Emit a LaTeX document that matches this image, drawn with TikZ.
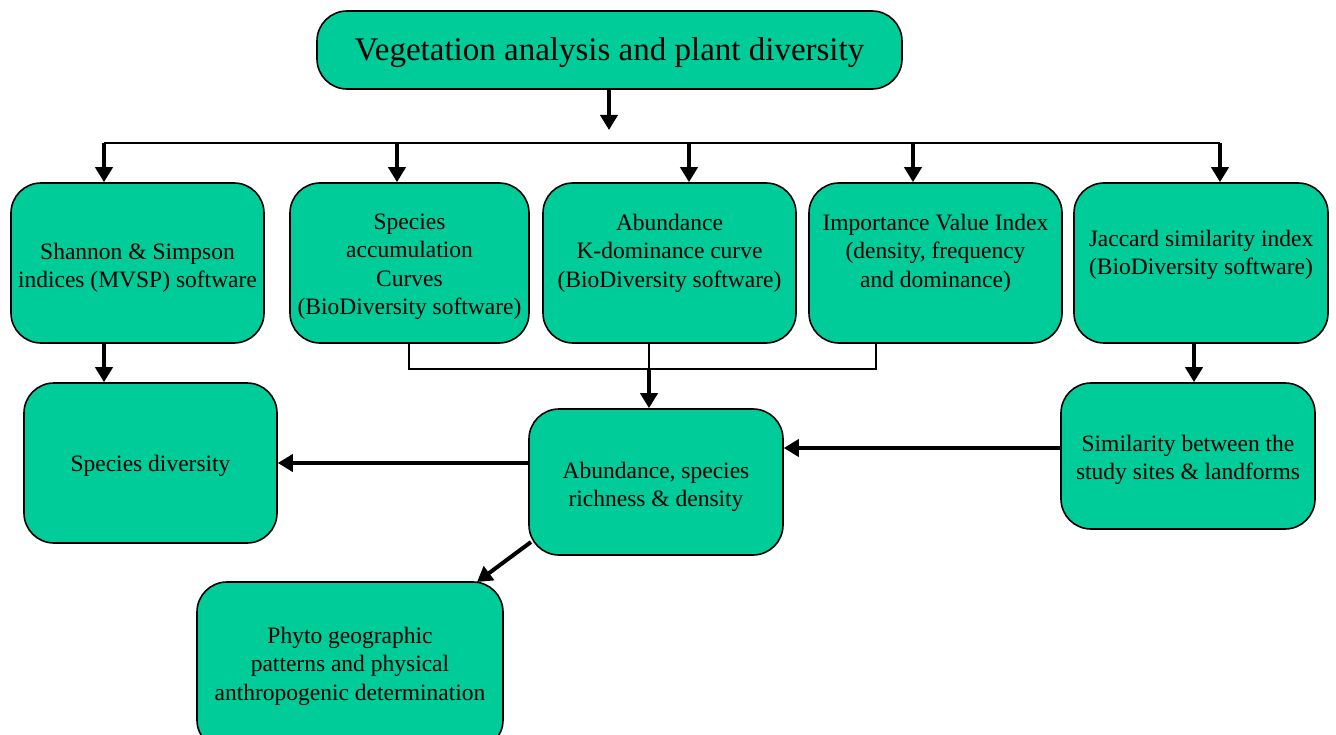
\documentclass[tikz,border=0pt]{standalone}
\usepackage{fontspec}
\setmainfont{Liberation Serif}
\usetikzlibrary{arrows.meta}
\definecolor{boxgreen}{HTML}{00CC99}

\tikzset{
  box/.style={draw, fill=boxgreen, line width=1.6pt, rounded corners=30pt, inner sep=0pt},
  txt/.style={align=center, font=\fontsize{23.5}{28.5}\selectfont, inner sep=0pt},
  joinline/.style={line width=1.8pt},
  arr/.style={line width=4pt, -{Triangle[length=15pt,width=17pt]}},
}

\begin{document}
\begin{tikzpicture}[x=1pt, y=-1pt]
  \clip (0,0) rectangle (1336,735);

  % top box
  \node[box, minimum width=585, minimum height=78] (title) at (609.5,50) {};
  \node[txt, font=\fontsize{33}{38}\selectfont] (title-t) at (609.5,53) {Vegetation analysis and plant diversity};

  % first row
  \node[box, minimum width=253, minimum height=160] (shannon) at (137.5,263) {};
  \node[txt] (shannon-t) at (137.5,268) {Shannon \& Simpson\\indices (MVSP) software};

  \node[box, minimum width=239, minimum height=160] (accum) at (409.5,263) {};
  \node[txt] (accum-t) at (409.5,267) {Species\\accumulation\\Curves\\(BioDiversity software)};

  \node[box, minimum width=253, minimum height=160] (kdom) at (669.5,263) {};
  \node[txt] (kdom-t) at (669.5,253) {Abundance\\K-dominance curve\\(BioDiversity software)};

  \node[box, minimum width=253, minimum height=160] (ivi) at (935.5,263) {};
  \node[txt] (ivi-t) at (935.5,253) {Importance Value Index\\(density, frequency\\and dominance)};

  \node[box, minimum width=254, minimum height=160] (jaccard) at (1201,263) {};
  \node[txt] (jaccard-t) at (1201,255) {Jaccard similarity index\\(BioDiversity software)};

  % second row
  \node[box, minimum width=253, minimum height=160] (specdiv) at (150.5,463) {};
  \node[txt] (specdiv-t) at (150.5,466) {Species diversity};

  \node[box, minimum width=254, minimum height=146] (abund) at (656,482) {};
  \node[txt] (abund-t) at (656,487) {Abundance, species\\richness \& density};

  \node[box, minimum width=254, minimum height=146] (simil) at (1188,456) {};
  \node[txt] (simil-t) at (1188,460) {Similarity between the\\study sites \& landforms};

  % bottom box
  \node[box, minimum width=306, minimum height=168] (phyto) at (350,666) {};
  \node[txt] (phyto-t) at (350,666) {Phyto geographic\\patterns and physical\\anthropogenic determination};

  % title to first row
  \coordinate (split) at (609,130);
  \draw[arr] (title.south -| split) -- (split);
  \coordinate (d1) at (104,143);
  \coordinate (d2) at (397,143);
  \coordinate (d3) at (689,143);
  \coordinate (d4) at (913,143);
  \coordinate (d5) at (1220,143);
  \draw[joinline] (d1) -- (d5);
  \draw[arr] (d1) -- (d1 |- shannon.north);
  \draw[arr] (d2) -- (d2 |- accum.north);
  \draw[arr] (d3) -- (d3 |- kdom.north);
  \draw[arr] (d4) -- (d4 |- ivi.north);
  \draw[arr] (d5) -- (d5 |- jaccard.north);

  % first row to second row
  \draw[arr] (d1 |- shannon.south) -- (d1 |- specdiv.north);
  \coordinate (j1) at (409,369);
  \coordinate (j2) at (649,369);
  \coordinate (j3) at (876,369);
  \draw[joinline] (j1 |- accum.south) -- (j1) -- (j3) -- (j3 |- ivi.south);
  \draw[joinline] (j2 |- kdom.south) -- (j2);
  \draw[arr] (j2) -- (j2 |- abund.north);
  \coordinate (j4) at (1194,343);
  \draw[arr] (j4 |- jaccard.south) -- (j4 |- simil.north);

  % second row links
  \coordinate (h1) at (0,448);
  \coordinate (h2) at (0,463);
  \draw[arr] (simil.west |- h1) -- (abund.east |- h1);
  \draw[arr] (abund.west |- h2) -- (specdiv.east |- h2);
  \coordinate (g1) at (531,542);
  \coordinate (g2) at (477,582);
  \draw[arr] (g1) -- (g2);
\end{tikzpicture}
\end{document}
